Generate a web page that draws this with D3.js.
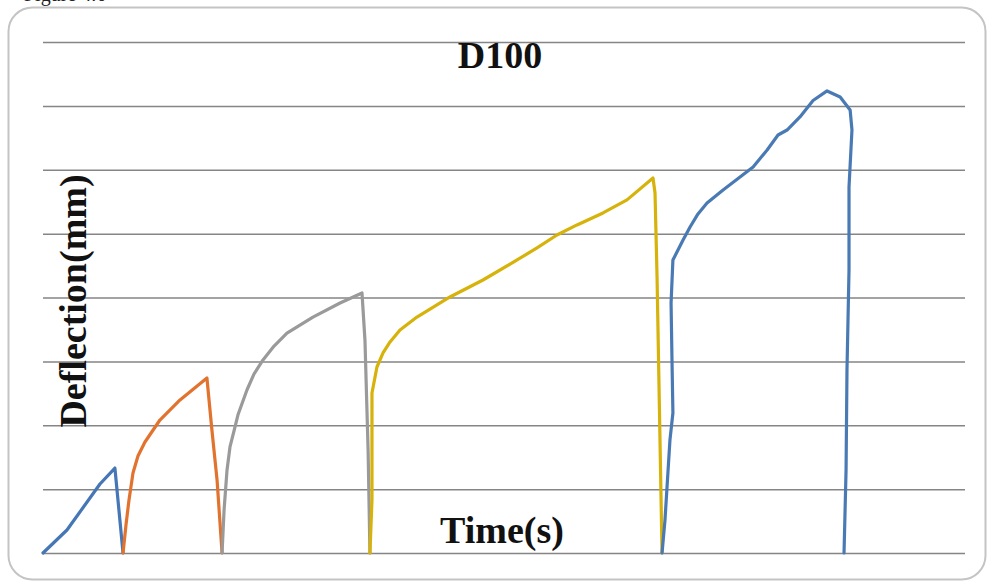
<!DOCTYPE html>
<html>
<head>
<meta charset="utf-8">
<script src="https://cdn.jsdelivr.net/npm/d3@7"></script>
<style>
  body { margin: 0; background: #fff; }
  svg { display: block; }
</style>
</head>
<body>
<div id="chart"></div>
<script>
// time (s) and deflection (mm) for each load cycle
const t1 = [0, 13.0, 30.9, 39.0, 43.4];
const d1 = [0, 1.80, 5.40, 6.65, 0];

const t2 = [43.4, 45.0, 46.6, 48.8, 51.5, 55.3, 63.4, 74.3, 88.9, 91.6, 94.4, 97.1];
const d2 = [0, 2.19, 4.11, 6.26, 7.59, 8.69, 10.41, 11.98, 13.70, 9.63, 5.71, 0];

const t3 = [97.1, 98.2, 99.8, 101.4, 104.1, 105.7, 110.6, 114.4, 119.3, 125.3, 132.3, 146.4, 161.1, 173.0, 174.6, 176.3, 177.3];
const d3v = [0, 3.37, 6.50, 8.30, 9.86, 10.80, 12.76, 14.01, 15.11, 16.20, 17.22, 18.47, 19.57, 20.35, 16.67, 8.06, 0];

const t4 = [177.3, 178.4, 178.4, 181.1, 184.4, 188.2, 193.6, 202.8, 220.7, 238.6, 257.1, 267.9, 278.7, 289.6, 303.7, 316.7, 330.8, 331.9, 333.0, 335.7];
const d4 = [0, 4.15, 12.52, 14.56, 15.66, 16.52, 17.46, 18.47, 20.04, 21.37, 22.94, 23.88, 24.89, 25.68, 26.62, 27.64, 29.36, 28.18, 21.61, 0];

const t5 = [335.7, 337.3, 340.0, 341.6, 341.1, 340.6, 341.6, 343.8, 347.1, 350.9, 355.2, 360.1, 368.8, 378.0, 385.1, 392.7, 398.6, 403.5, 410.5, 417.6, 425.2, 432.3, 437.7, 438.7, 437.1, 437.1, 436.0, 435.5, 434.4];
const d5 = [0, 2.58, 8.85, 10.96, 15.11, 19.57, 22.94, 23.56, 24.50, 25.52, 26.54, 27.40, 28.42, 29.43, 30.22, 31.55, 32.72, 33.11, 34.13, 35.42, 36.17, 35.70, 34.68, 33.11, 28.65, 22.15, 14.33, 6.50, 0];

const seriesColors = ["#4576b6", "#e2732f", "#9a9a9a", "#d6b20a", "#4a7ab4"];
const yTicks = [0, 5, 10, 15, 20, 25, 30, 35, 40];

const width = 990, height = 585;
const plotLeft = 43, plotRight = 965, plotTop = 42, plotBottom = 553;

const svg = d3.select("#chart").append("svg")
  .attr("width", width)
  .attr("height", height);

// cut-off caption from the page above the figure
svg.append("text")
  .attr("x", 24).attr("y", 1)
  .style("font-family", "'Liberation Serif', serif")
  .style("font-size", "20px")
  .attr("fill", "#222")
  .text("Figure 4.6");

// chart frame
svg.append("rect")
  .attr("x", 8.5).attr("y", 7.5)
  .attr("width", 977).attr("height", 572)
  .attr("rx", 24).attr("ry", 24)
  .attr("fill", "#fff")
  .attr("stroke", "#c4c4c4")
  .attr("stroke-width", 2);

const x = d3.scaleLinear().domain([0, 500]).range([plotLeft, plotRight]);
const y = d3.scaleLinear().domain([0, 40]).range([plotBottom, plotTop]);

// horizontal gridlines
const grid = svg.append("g")
  .attr("transform", "translate(" + plotLeft + ",0)")
  .call(d3.axisLeft(y).tickValues(yTicks).tickSize(-(plotRight - plotLeft)).tickFormat(""));
grid.select(".domain").remove();
grid.selectAll("line").attr("stroke", "#858585").attr("stroke-width", 1.5);

// title and axis titles
svg.append("text")
  .attr("x", 500).attr("y", 68)
  .attr("text-anchor", "middle")
  .style("font-family", "'Liberation Serif', serif")
  .style("font-weight", "bold")
  .style("font-size", "38px")
  .attr("fill", "#111")
  .text("D100");

svg.append("text")
  .attr("transform", "translate(86,301) rotate(-90)")
  .attr("text-anchor", "middle")
  .style("font-family", "'Liberation Serif', serif")
  .style("font-weight", "bold")
  .style("font-size", "38px")
  .attr("fill", "#111")
  .text("Deflection(mm)");

svg.append("text")
  .attr("x", 502).attr("y", 543)
  .attr("text-anchor", "middle")
  .style("font-family", "'Liberation Serif', serif")
  .style("font-weight", "bold")
  .style("font-size", "38px")
  .attr("fill", "#111")
  .text("Time(s)");

// one line per cycle
const series = [[t1, d1], [t2, d2], [t3, d3v], [t4, d4], [t5, d5]];
const line = d3.line()
  .x(d => x(d[0]))
  .y(d => y(d[1]));

series.forEach((s, i) => {
  const pts = s[0].map((t, j) => [t, s[1][j]]);
  svg.append("path")
    .datum(pts)
    .attr("d", line)
    .attr("fill", "none")
    .attr("stroke", seriesColors[i])
    .attr("stroke-width", 3.2)
    .attr("stroke-linejoin", "round")
    .attr("stroke-linecap", "round");
});
</script>
</body>
</html>
